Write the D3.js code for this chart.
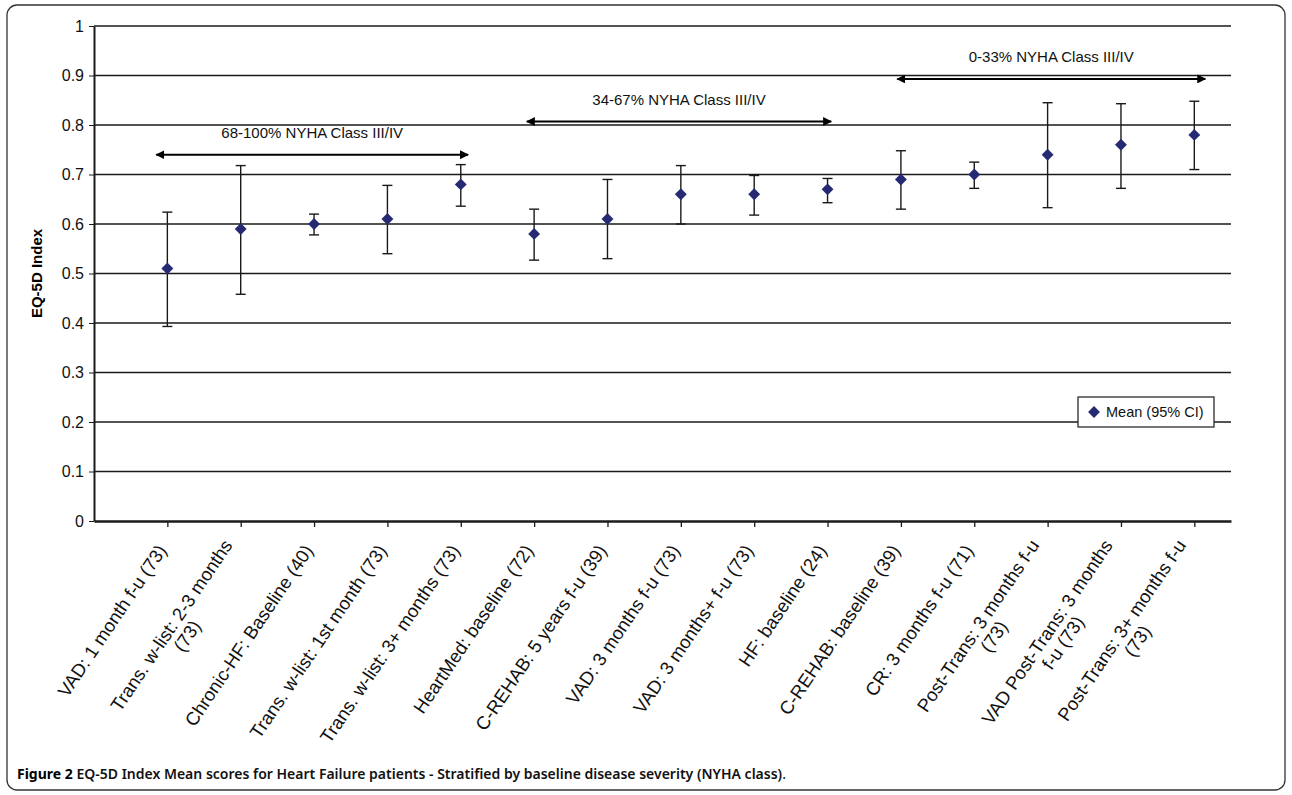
<!DOCTYPE html>
<html><head><meta charset="utf-8">
<script src="https://cdn.jsdelivr.net/npm/d3@7"></script>
<style>body{margin:0;background:#fff}text{font-family:"Liberation Sans",Arial,sans-serif}</style>
</head><body><svg id="chart" width="1292" height="795"></svg>
<script>
// data
const labels = ["VAD: 1 month f-u (73)", "Trans. w-list: 2-3 months|(73)", "Chronic-HF: Baseline (40)",
  "Trans. w-list: 1st month (73)", "Trans. w-list: 3+ months (73)", "HeartMed: baseline (72)",
  "C-REHAB: 5 years f-u (39)", "VAD: 3 months f-u (73)", "VAD: 3 months+ f-u (73)", "HF: baseline (24)",
  "C-REHAB: baseline (39)", "CR: 3 months f-u (71)", "Post-Trans: 3 months f-u|(73)",
  "VAD Post-Trans: 3 months|f-u (73)", "Post-Trans: 3+ months f-u|(73)"];
const means = [0.51, 0.59, 0.60, 0.61, 0.68, 0.58, 0.61, 0.66, 0.66, 0.67, 0.69, 0.70, 0.74, 0.76, 0.78];
const lower = [0.393, 0.458, 0.578, 0.540, 0.636, 0.527, 0.530, 0.600, 0.618, 0.643, 0.630, 0.672, 0.633, 0.672, 0.710];
const upper = [0.624, 0.718, 0.620, 0.678, 0.720, 0.630, 0.690, 0.718, 0.698, 0.692, 0.748, 0.725, 0.845, 0.843, 0.848];
const yTicks = [0, 0.1, 0.2, 0.3, 0.4, 0.5, 0.6, 0.7, 0.8, 0.9, 1];
const bands = [
  {text: "68-100% NYHA Class III/IV", from: 0.85, to: 5.1, y: 0.74},
  {text: "34-67% NYHA Class III/IV", from: 5.9, to: 10.05, y: 0.807},
  {text: "0-33% NYHA Class III/IV", from: 10.95, to: 15.15, y: 0.893}
];

const svg = d3.select("#chart");
const x = d3.scaleLinear().domain([0, 15.5]).range([94, 1231]);
const y = d3.scaleLinear().domain([0, 1]).range([521, 26]);
const ink = "#1a1a1a";

// figure frame
svg.append("rect").attr("x", 7).attr("y", 5).attr("width", 1278).attr("height", 785)
  .attr("rx", 10).attr("fill", "none").attr("stroke", "#333").attr("stroke-width", 1.3);

// grid
svg.append("g").selectAll("line").data(yTicks.slice(1)).join("line")
  .attr("x1", x(0)).attr("x2", x(15.5)).attr("y1", d => y(d)).attr("y2", d => y(d))
  .attr("stroke", ink).attr("stroke-width", 1.4);

// y axis
const yAxis = svg.append("g").attr("transform", `translate(${x(0)},0)`)
  .call(d3.axisLeft(y).tickValues(yTicks).tickFormat(d3.format("")).tickSize(5).tickSizeOuter(0));
yAxis.select(".domain").attr("stroke", ink).attr("stroke-width", 2);
yAxis.selectAll(".tick line").attr("stroke", ink);
yAxis.selectAll("text").attr("font-size", 16).attr("fill", "#111").attr("dx", -2);

// x axis
const xAxis = svg.append("g").attr("transform", `translate(0,${y(0)})`)
  .call(d3.axisBottom(x).tickValues(d3.range(1, 16)).tickFormat("").tickSize(6).tickSizeOuter(0));
xAxis.select(".domain").attr("stroke", ink).attr("stroke-width", 2.5);
xAxis.selectAll(".tick line").attr("stroke", ink).attr("stroke-width", 1.3);

// rotated labels
labels.forEach((lab, i) => {
  const parts = lab.split("|");
  const g = svg.append("g")
    .attr("transform", `translate(${x(i + 1) - 5},${y(0) + 26}) rotate(-56)`);
  const t1 = g.append("text").attr("text-anchor", "end").attr("font-size", 18.5)
    .attr("fill", "#111").attr("y", parts.length > 1 ? -3 : 6).text(parts[0]);
  if (parts.length > 1) {
    const w = t1.node().getComputedTextLength();
    g.append("text").attr("text-anchor", "middle").attr("font-size", 18.5).attr("fill", "#111")
      .attr("x", -w / 2).attr("y", 16).text(parts[1]);
  }
});

// y title
svg.append("text").attr("transform", `translate(42,${y(0.5)}) rotate(-90)`)
  .attr("text-anchor", "middle").attr("font-size", 15).attr("font-weight", "bold").text("EQ-5D Index");

// error bars
const eb = svg.append("g").attr("stroke", ink).attr("stroke-width", 1.4);
means.forEach((m, i) => {
  const cx = x(i + 1);
  eb.append("line").attr("x1", cx).attr("x2", cx).attr("y1", y(lower[i])).attr("y2", y(upper[i]));
  [lower[i], upper[i]].forEach(v => eb.append("line")
    .attr("x1", cx - 5).attr("x2", cx + 5).attr("y1", y(v)).attr("y2", y(v)));
});

// markers
const diamond = d3.symbol().type(d3.symbolDiamond2).size(90);
svg.append("g").selectAll("path").data(means).join("path")
  .attr("transform", (d, i) => `translate(${x(i + 1)},${y(d)})`)
  .attr("d", diamond).attr("fill", "#262a72");

// annotation arrows
svg.append("defs").append("marker").attr("id", "ah").attr("viewBox", "0 0 10 10")
  .attr("refX", 9).attr("refY", 5).attr("markerWidth", 9).attr("markerHeight", 9)
  .attr("orient", "auto-start-reverse").attr("markerUnits", "userSpaceOnUse")
  .append("path").attr("d", "M0,0L10,5L0,10Z").attr("fill", "#000");
bands.forEach(b => {
  svg.append("line").attr("x1", x(b.from)).attr("x2", x(b.to)).attr("y1", y(b.y)).attr("y2", y(b.y))
    .attr("stroke", "#000").attr("stroke-width", 2)
    .attr("marker-start", "url(#ah)").attr("marker-end", "url(#ah)");
  svg.append("text").attr("x", (x(b.from) + x(b.to)) / 2).attr("y", y(b.y) - 17)
    .attr("text-anchor", "middle").attr("font-size", 15).attr("fill", "#111").text(b.text);
});

// legend
const lg = svg.append("g").attr("transform", "translate(1078,397)");
lg.append("rect").attr("width", 136).attr("height", 30).attr("fill", "#fff").attr("stroke", ink).attr("stroke-width", 1.2);
lg.append("path").attr("transform", "translate(16,15)").attr("d", diamond).attr("fill", "#262a72");
lg.append("text").attr("x", 28).attr("y", 20).attr("font-size", 14.5).attr("fill", "#111").text("Mean (95% CI)");

// caption
const cap = svg.append("text").attr("x", 17).attr("y", 779).attr("font-size", 14)
  .style("font-family", "'Noto Sans',sans-serif");
cap.append("tspan").attr("font-weight", "bold").attr("fill", "#000").text("Figure 2 ");
cap.append("tspan").attr("font-weight", "600").attr("fill", "#111")
  .text("EQ-5D Index Mean scores for Heart Failure patients - Stratified by baseline disease severity (NYHA class)");
cap.append("tspan").text(".");
</script></body></html>
